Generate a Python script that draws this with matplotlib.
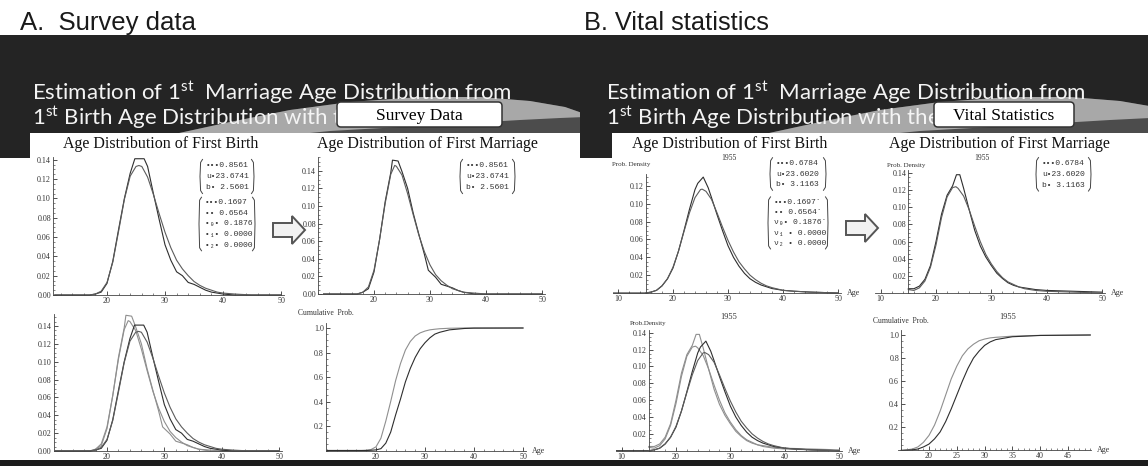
import matplotlib
matplotlib.use('Agg')
import matplotlib.pyplot as plt
from matplotlib.patches import Rectangle, Polygon, FancyBboxPatch
from matplotlib.ticker import MultipleLocator

plt.rcParams['mathtext.fontset'] = 'custom'
plt.rcParams['mathtext.rm'] = 'Lato'

W, H = 1148, 466

# ---- A. survey data: age distributions (density per year of age)
a_birth_obs_age = [11, 17, 18, 19, 20, 21, 22, 23, 24, 24.8, 26.4, 27, 28, 29, 30, 31, 32, 33, 34, 35, 36, 37, 38, 39, 40, 42, 50]
a_birth_obs = [0, 0, 0.001, 0.003, 0.012, 0.035, 0.068, 0.100, 0.126, 0.141, 0.141, 0.133, 0.105, 0.078, 0.052, 0.036,
               0.024, 0.020, 0.013, 0.011, 0.008, 0.005, 0.003, 0.002, 0.001, 0.0, 0.0]
a_birth_fit_age = [11, 17, 18, 19, 20, 21, 22, 23, 24, 25, 25.5, 26, 27, 28, 29, 30, 31, 32, 33, 34, 35, 36, 37, 38, 39, 40, 42, 45, 50]
a_birth_fit = [0, 0, 0.001, 0.004, 0.013, 0.034, 0.066, 0.099, 0.123, 0.133, 0.134, 0.133, 0.122, 0.104, 0.084, 0.065,
               0.049, 0.036, 0.027, 0.020, 0.014, 0.010, 0.007, 0.005, 0.003, 0.002, 0.001, 0.0, 0.0]
a_marr_obs_age = [11, 17, 18, 19, 20, 21, 22, 23, 23.3, 24.3, 25, 26, 27, 28, 29, 29.7, 31, 32, 33, 34, 35, 36, 37, 38, 50]
a_marr_obs = [0, 0, 0.002, 0.006, 0.025, 0.062, 0.105, 0.138, 0.152, 0.151, 0.139, 0.120, 0.092, 0.068, 0.045, 0.027,
              0.019, 0.011, 0.009, 0.007, 0.004, 0.002, 0.001, 0.0, 0.0]
a_marr_fit_age = [11, 17, 18, 19, 20, 21, 22, 23, 23.7, 24, 25, 26, 27, 28, 29, 30, 31, 32, 33, 34, 35, 36, 38, 40, 50]
a_marr_fit = [0, 0, 0.002, 0.008, 0.027, 0.062, 0.103, 0.136, 0.146, 0.145, 0.135, 0.114, 0.090, 0.067, 0.048, 0.033,
              0.022, 0.015, 0.010, 0.006, 0.004, 0.002, 0.001, 0.0, 0.0]

a_cdf_age = [10, 17, 18, 19, 20, 21, 22, 23, 24, 25, 26, 27, 28, 29, 30, 31, 32, 33, 35, 38, 40, 50]
a_cdf_marr = [0, 0, 0.002, 0.008, 0.03, 0.10, 0.24, 0.40, 0.57, 0.71, 0.82, 0.89, 0.935, 0.96, 0.975, 0.985, 0.99,
              0.994, 0.998, 1.0, 1.0, 1.0]
a_cdf_birth = [0, 0, 0.0, 0.002, 0.005, 0.015, 0.06, 0.15, 0.29, 0.42, 0.56, 0.67, 0.76, 0.83, 0.88, 0.92, 0.95,
               0.965, 0.985, 0.996, 0.999, 1.0]

# ---- B. vital statistics, 1955
b_birth_obs_age = [9, 15, 16, 17, 18, 19, 20, 21, 22, 23, 24, 24.5, 25.5, 26.4, 27, 28, 29, 30, 31, 32, 33, 34, 35, 36, 37, 38, 40, 42, 45, 50]
b_birth_obs = [0, 0, 0.001, 0.003, 0.008, 0.016, 0.028, 0.047, 0.070, 0.094, 0.116, 0.123, 0.130, 0.118, 0.107, 0.088,
               0.070, 0.053, 0.040, 0.030, 0.022, 0.016, 0.012, 0.009, 0.007, 0.005, 0.003, 0.002, 0.001, 0.0]
b_birth_fit_age = [15, 16, 17, 18, 19, 20, 21, 22, 23, 24, 25, 25.3, 26, 27, 28, 29, 30, 31, 32, 33, 34, 35, 36, 37, 38, 40, 42, 45, 50]
b_birth_fit = [0, 0.001, 0.003, 0.008, 0.016, 0.029, 0.047, 0.069, 0.090, 0.107, 0.116, 0.1165, 0.114, 0.105, 0.090,
               0.074, 0.059, 0.046, 0.035, 0.027, 0.020, 0.015, 0.011, 0.008, 0.006, 0.003, 0.002, 0.001, 0.0]
b_marr_obs_age = [15, 16, 17, 18, 19, 20, 21, 22, 23, 23.7, 24.3, 25, 26, 27, 28, 29, 30, 31, 32, 33, 34, 35, 36, 38, 40, 45, 50]
b_marr_obs = [0.005, 0.005, 0.008, 0.016, 0.032, 0.060, 0.092, 0.114, 0.125, 0.138, 0.138, 0.122, 0.097, 0.073, 0.055,
              0.042, 0.032, 0.023, 0.017, 0.012, 0.009, 0.007, 0.006, 0.004, 0.003, 0.002, 0.001]
b_marr_fit_age = [15, 16, 17, 18, 19, 20, 21, 22, 23, 23.6, 24, 25, 26, 27, 28, 29, 30, 31, 32, 33, 34, 35, 36, 38, 40, 45, 50]
b_marr_fit = [0.004, 0.003, 0.006, 0.014, 0.030, 0.056, 0.088, 0.112, 0.123, 0.124, 0.122, 0.113, 0.097, 0.078, 0.060,
              0.045, 0.034, 0.025, 0.018, 0.013, 0.010, 0.007, 0.005, 0.003, 0.002, 0.001, 0.0]

b_cdf_age = [15, 16, 17, 18, 19, 20, 21, 22, 23, 24, 25, 26, 27, 28, 29, 30, 31, 32, 35, 40, 49]
b_cdf_marr = [0.0, 0.005, 0.012, 0.03, 0.07, 0.13, 0.22, 0.34, 0.48, 0.62, 0.73, 0.82, 0.88, 0.92, 0.95, 0.965, 0.975,
              0.98, 0.99, 0.997, 1.0]
b_cdf_birth = [0.0, 0.002, 0.005, 0.012, 0.03, 0.055, 0.10, 0.16, 0.25, 0.36, 0.48, 0.60, 0.71, 0.80, 0.86, 0.91, 0.94,
               0.96, 0.985, 0.996, 1.0]

# fitted parameters printed on the plots
a_params1 = ['•••0.8561', 'u•23.6741', 'b• 2.5601']
a_params2 = ['•••0.1697', '•• 0.6564', '•₀• 0.1876', '•₁• 0.0000', '•₂• 0.0000']
b_params1 = ['•••0.6784', 'u•23.6020', 'b• 3.1163']
b_params2 = ['•••0.1697`', '•• 0.6564`', 'ν₀• 0.1876`', 'ν₁ • 0.0000', 'ν₂ • 0.0000']

OBS = '#2e2e2e'
FIT = '#5c5c5c'
LIGHT = '#8f8f8f'
SERIF = ['Liberation Serif', 'DejaVu Serif']
MONO = ['Liberation Mono', 'DejaVu Sans Mono']
BANNER = '#242424'

fig = plt.figure(figsize=(W / 100, H / 100), dpi=100)
fig.patch.set_facecolor('white')

# background layer in pixel units
bg = fig.add_axes([0, 0, 1, 1], zorder=0)
bg.set_xlim(0, W)
bg.set_ylim(H, 0)
bg.axis('off')

bg.add_patch(Rectangle((0, 35), W, 100, color=BANNER, lw=0))
for dx in (0, 590):
    under = [(170 + dx, 135), (230 + dx, 122), (290 + dx, 110), (350 + dx, 102), (420 + dx, 97), (480 + dx, 97),
             (530 + dx, 101), (565 + dx, 107), (585 + dx, 114), (585 + dx, 135)]
    bg.add_patch(Polygon(under, closed=True, color='#4c4c4c', lw=0))
    swoosh = [(170 + dx, 135), (230 + dx, 122), (290 + dx, 110), (350 + dx, 102), (420 + dx, 97), (480 + dx, 97),
              (530 + dx, 101), (565 + dx, 107), (585 + dx, 114), (585 + dx, 117), (560 + dx, 118), (520 + dx, 120),
              (470 + dx, 123), (400 + dx, 127), (330 + dx, 131), (290 + dx, 135)]
    bg.add_patch(Polygon(swoosh, closed=True, color='#a8a8a8', lw=0))
bg.add_patch(Rectangle((0, 133), W, 327, color='white', lw=0))
bg.add_patch(Rectangle((0, 35), 30, 123, color=BANNER, lw=0))
bg.add_patch(Rectangle((580, 35), 32, 123, color=BANNER, lw=0))
bg.add_patch(Rectangle((0, 460), W, 6, color='#1c1c1c', lw=0, zorder=5))

# section headings
bg.text(20, 30, 'A.  Survey data', fontsize=18.5, family='Liberation Sans', color='#1a1a1a', va='baseline')
bg.text(584, 30, 'B. Vital statistics', fontsize=18.3, family='Liberation Sans', color='#1a1a1a', va='baseline')

for x0, label, bx, bw in [(32, 'Survey Data', 337, 165), (606, 'Vital Statistics', 934, 140)]:
    bg.text(x0, 100, r'Estimation of 1$^{\rm st}$  Marriage Age Distribution from', fontsize=16,
            family='Lato', color='#f4f4f4', va='baseline')
    bg.text(x0, 125, r'1$^{\rm st}$ Birth Age Distribution with the', fontsize=16,
            family='Lato', color='#f4f4f4', va='baseline')
    bg.add_patch(FancyBboxPatch((bx, 102), bw, 25, boxstyle='round,pad=0,rounding_size=4',
                                facecolor='white', edgecolor='#333333', lw=1.1, zorder=3))
    bg.text(bx + bw / 2, 120, label, fontsize=12.5, family=SERIF, color='black', ha='center', va='baseline',
            zorder=4)

# chart titles
for cx, title in [(161, 'Age Distribution of First Birth'), (427, 'Age Distribution of First Marriage'),
                  (730, 'Age Distribution of First Birth'), (999, 'Age Distribution of First Marriage')]:
    bg.text(cx, 148, title, fontsize=11.5, family=SERIF, color='#111111', ha='center', va='baseline', zorder=3)

# "1955" labels (the upper ones sit half under the titles)
for cx, cy in [(729, 160), (982, 160)]:
    bg.text(cx, cy, '1955', fontsize=5.5, family=SERIF, color='#333333', ha='center', va='baseline')
    bg.add_patch(Rectangle((cx - 15, 150), 30, 6.5, color='white', lw=0, zorder=2))
for cx in (729, 1008):
    bg.text(cx, 319, '1955', fontsize=6, family=SERIF, color='#333333', ha='center', va='baseline')

# hollow arrows between the birth and marriage charts
for ax0, ay in [(273, 230), (846, 228)]:
    arrow = [(ax0, ay - 7), (ax0 + 19, ay - 7), (ax0 + 19, ay - 14), (ax0 + 32, ay), (ax0 + 19, ay + 14),
             (ax0 + 19, ay + 7), (ax0, ay + 7)]
    bg.add_patch(Polygon(arrow, closed=True, facecolor='#f2f2f2', edgecolor='#555555', lw=1.4))


def bracket_box(lines, x_left, x_right, top, step):
    bottom = top + step * (len(lines) - 1)
    for i, s in enumerate(lines):
        bg.text(x_left + 6, top + i * step, s, fontsize=5.8, family=MONO, color='#333333', va='center')
    y0, y1 = top - step * 0.55, bottom + step * 0.55
    ym = (y0 + y1) / 2
    bg.plot([x_left + 2.5, x_left + 0.6, x_left, x_left + 0.6, x_left + 2.5], [y0, y0 + 3, ym, y1 - 3, y1],
            color='#444444', lw=0.7)
    bg.plot([x_right - 2.5, x_right - 0.6, x_right, x_right - 0.6, x_right - 2.5], [y0, y0 + 3, ym, y1 - 3, y1],
            color='#444444', lw=0.7)


bracket_box(a_params1, 200, 254, 165.5, 11)
bracket_box(a_params2, 199, 255, 203, 10.5)
bracket_box(a_params1, 460, 515, 165.5, 11)
bracket_box(b_params1, 770, 826, 163.5, 10.5)
bracket_box(b_params2, 768, 828, 202.5, 10.2)
bracket_box(b_params1, 1036, 1091, 163.5, 10.8)


def panel(x_ref, y_ref, xlim, ylim, y_axis_at):
    (a1, p1), (a2, p2) = x_ref
    sx = (p2 - p1) / (a2 - a1)
    left = p1 + (xlim[0] - a1) * sx
    right = p1 + (xlim[1] - a1) * sx
    (v1, q1), (v2, q2) = y_ref
    sy = (q2 - q1) / (v2 - v1)
    bottom = q1 + (ylim[0] - v1) * sy
    top = q1 + (ylim[1] - v1) * sy
    ax = fig.add_axes([left / W, 1 - bottom / H, (right - left) / W, (bottom - top) / H], zorder=2)
    ax.set_xlim(xlim)
    ax.set_ylim(ylim)
    ax.patch.set_alpha(0)
    ax.spines['top'].set_visible(False)
    ax.spines['right'].set_visible(False)
    ax.spines['left'].set_position(('data', y_axis_at))
    ax.spines['bottom'].set_position(('data', 0))
    ax.spines['left'].set_bounds(0, ylim[1])
    for s in ('left', 'bottom'):
        ax.spines[s].set_linewidth(0.6)
        ax.spines[s].set_color('#444444')
    ax.tick_params(which='major', direction='in', length=3, width=0.6, pad=1.5, colors='#333333')
    ax.tick_params(which='minor', direction='in', length=1.5, width=0.5, colors='#555555')
    return ax


def ticks(ax, xt, xfmt, yt, yfmt, xminor, yminor):
    ax.set_xticks(xt)
    ax.set_xticklabels([xfmt % v for v in xt], family=SERIF, fontsize=5.8)
    ax.set_yticks(yt)
    ax.set_yticklabels([yfmt % v for v in yt], family=SERIF, fontsize=5.8)
    ax.xaxis.set_minor_locator(MultipleLocator(xminor))
    ax.yaxis.set_minor_locator(MultipleLocator(yminor))


def age_label(ax):
    ax.annotate('Age', xy=(1, 0), xycoords=('axes fraction', 'data'), xytext=(4, 0), textcoords='offset points',
                fontsize=5.8, family=SERIF, va='center', color='#333333')


dens_a = [0, 0.02, 0.04, 0.06, 0.08, 0.10, 0.12, 0.14]
dens_b12 = [0.02, 0.04, 0.06, 0.08, 0.10, 0.12]
dens_b14 = [0.02, 0.04, 0.06, 0.08, 0.10, 0.12, 0.14]
cum = [0.2, 0.4, 0.6, 0.8, 1.0]

# A1: first birth, survey
ax = panel(((20, 107), (50, 281)), ((0, 295), (0.14, 159.7)), (10.7, 50.6), (-0.002, 0.1425), 10.7)
ticks(ax, [20, 30, 40, 50], '%d', dens_a, '%.2f', 2, 0.005)
ax.plot(a_birth_obs_age, a_birth_obs, color=OBS, lw=0.8)
ax.plot(a_birth_fit_age, a_birth_fit, color=FIT, lw=0.8)

# A2: first marriage, survey
ax = panel(((20, 374), (50, 542)), ((0, 294), (0.14, 170.7)), (10, 50.6), (-0.002, 0.155), 10)
ticks(ax, [20, 30, 40, 50], '%d', dens_a, '%.2f', 2, 0.005)
ax.plot(a_marr_obs_age, a_marr_obs, color=OBS, lw=0.8)
ax.plot(a_marr_fit_age, a_marr_fit, color=FIT, lw=0.8)

# A3: both distributions together
ax = panel(((20, 107), (50, 279)), ((0, 451), (0.14, 326)), (10.7, 50.6), (-0.002, 0.153), 10.7)
ticks(ax, [20, 30, 40, 50], '%d', dens_a, '%.2f', 2, 0.005)
ax.plot(a_marr_obs_age, a_marr_obs, color=LIGHT, lw=0.8)
ax.plot(a_marr_fit_age, a_marr_fit, color=LIGHT, lw=0.8)
ax.plot(a_birth_obs_age, a_birth_obs, color=OBS, lw=0.8)
ax.plot(a_birth_fit_age, a_birth_fit, color=FIT, lw=0.8)

# A4: cumulative
ax = panel(((20, 376), (50, 523)), ((0, 450.5), (1.0, 328)), (9.8, 50.6), (-0.01, 1.04), 9.8)
ticks(ax, [20, 30, 40, 50], '%d', cum, '%.1f', 2, 0.05)
ax.plot(a_cdf_age, a_cdf_marr, color=LIGHT, lw=0.8)
ax.plot(a_cdf_age, a_cdf_birth, color=OBS, lw=0.8)
ax.text(-0.14, 1.06, 'Cumulative  Prob.', transform=ax.transAxes, fontsize=5.5, family=SERIF, color='#333333')
age_label(ax)

# B1: first birth, vital statistics
ax = panel(((20, 673), (50, 838)), ((0, 293), (0.12, 186)), (9, 50.6), (-0.002, 0.134), 15)
ticks(ax, [10, 20, 30, 40, 50], '%d', dens_b12, '%.2f', 2, 0.005)
ax.plot(b_birth_obs_age, b_birth_obs, color=OBS, lw=0.8)
ax.plot(b_birth_fit_age, b_birth_fit, color=FIT, lw=0.8)
ax.text(0.0, 1.06, 'Prob. Density', transform=ax.transAxes, fontsize=5, family=SERIF, color='#333333')
age_label(ax)

# B2: first marriage, vital statistics
ax = panel(((20, 936), (50, 1102)), ((0, 293), (0.14, 173)), (9, 50.6), (-0.002, 0.143), 15)
ticks(ax, [10, 20, 30, 40, 50], '%d', dens_b14, '%.2f', 2, 0.005)
ax.plot(b_marr_obs_age, b_marr_obs, color=OBS, lw=0.8)
ax.plot(b_marr_fit_age, b_marr_fit, color=FIT, lw=0.8)
ax.text(0.05, 1.03, 'Prob. Density', transform=ax.transAxes, fontsize=5, family=SERIF, color='#333333')
age_label(ax)

# B3: both distributions
ax = panel(((20, 676), (50, 839)), ((0, 450.7), (0.14, 332.7)), (9, 50.6), (-0.002, 0.143), 15)
ticks(ax, [10, 20, 30, 40, 50], '%d', dens_b14, '%.2f', 2, 0.005)
ax.plot(b_marr_obs_age, b_marr_obs, color=LIGHT, lw=0.8)
ax.plot(b_marr_fit_age, b_marr_fit, color=LIGHT, lw=0.8)
ax.plot(b_birth_obs_age, b_birth_obs, color=OBS, lw=0.8)
ax.plot(b_birth_fit_age, b_birth_fit, color=FIT, lw=0.8)
ax.text(0.06, 1.04, 'Prob.Density', transform=ax.transAxes, fontsize=5, family=SERIF, color='#333333')
age_label(ax)

# B4: cumulative
ax = panel(((20, 929), (45, 1068)), ((0, 450.4), (1.0, 335)), (14.5, 49.2), (-0.01, 1.04), 15)
ticks(ax, [20, 25, 30, 35, 40, 45], '%d', cum, '%.1f', 1, 0.05)
ax.plot(b_cdf_age, b_cdf_marr, color=LIGHT, lw=0.8)
ax.plot(b_cdf_age, b_cdf_birth, color=OBS, lw=0.8)
ax.text(-0.13, 1.06, 'Cumulative  Prob.', transform=ax.transAxes, fontsize=5.5, family=SERIF, color='#333333')
age_label(ax)

fig.savefig('out.png', dpi=100)
